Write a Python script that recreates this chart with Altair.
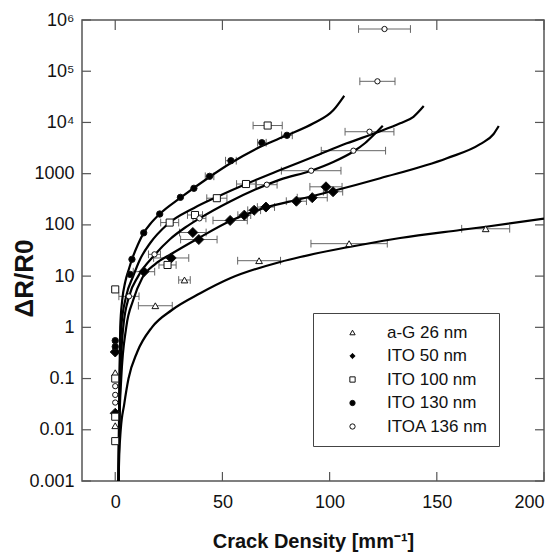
import altair as alt
import pandas as pd

series_names = ["a-G 26 nm", "ITO 50 nm", "ITO 100 nm", "ITO 130 nm", "ITOA 136 nm"]

# ---- measured points (x = crack density, y = dR/R0, err = half width of x error bar)
ag_x = [0, 0, 18.7, 32.3, 67.1, 109.1, 172.8]
ag_y = [0.13, 0.012, 2.64, 8.4, 20, 43, 84]
ag_err = [0, 0, 7.9, 2.7, 10, 17.8, 11.2]

ito50_x = [0, 0, 13.4, 26.1, 36.2, 39.0, 53.6, 60.2, 64.8, 70.3, 84.5, 91.9, 98.3, 101.6]
ito50_y = [0.33, 0.021, 12.2, 22.6, 71, 51.8, 122, 155, 193, 223, 290, 340, 554, 444]
ito50_err = [0, 0, 5, 8.2, 6.2, 8.5, 8, 3, 3, 4, 4.7, 7, 7.5, 4.5]

ito100_x = [0, 0, 0, 0, 24.4, 25.4, 37.2, 47.4, 61.0, 71.1]
ito100_y = [5.5, 0.1, 0.018, 0.006, 16.5, 111, 156, 332, 628, 8710]
ito100_err = [0, 0, 0, 0, 4, 4.2, 3.5, 4.7, 4.4, 6.8]

ito130_x = [0, 0, 7.0, 7.8, 13.3, 20.75, 30.4, 36.7, 44.0, 53.95, 68.4, 80.1]
ito130_y = [0.55, 0.42, 10.8, 21.3, 70, 163, 345, 518, 888, 1790, 4020, 5610]
ito130_err = [0, 0, 0, 0, 0, 0, 0, 0, 2, 2.5, 2, 2.5]

itoa_x = [0, 0, 0, 6.4, 18.3, 39.3, 70.7, 91.4, 111.1, 118.6, 122.3, 125.6]
itoa_y = [0.071, 0.048, 0.034, 4.03, 26.6, 134, 609, 1142, 2810, 6590, 63500, 667000]
itoa_err = [0, 0, 0, 4.7, 2.8, 3, 4.8, 13.9, 15, 11.4, 8.2, 12.1]

# ---- fitted curves
fitA_x = [1.54, 1.73, 1.96, 2.33, 3.26, 4.66, 6.53, 8.39, 10.49, 13.29, 16.32, 20.75, 30.31, 43.97, 53.95, 68.41, 80.07, 92.47, 101.8, 106.8]
fitA_y = [0.001, 0.01, 0.1, 1, 3.41, 7.67, 14.4, 24.7, 40.5, 70, 104, 163, 335, 861, 1615, 3467, 5610, 9620, 17500, 33200]

fitB_x = [1.54, 1.77, 2.10, 2.80, 5.13, 8.39, 11.66, 16.32, 24.0, 36.8, 47.4, 61.0, 76.9, 92.5, 108.0, 122.0, 132.9, 139.1, 143.9]
fitB_y = [0.001, 0.01, 0.1, 1, 4.09, 10, 21.6, 44.3, 99.5, 214, 350, 628, 1178, 2144, 3915, 6360, 9620, 12900, 20900]

fitC_x = [1.54, 1.87, 2.33, 3.73, 6.53, 10.73, 18.33, 25.65, 32.64, 39.31, 53.6, 65.3, 76.9, 91.4, 101.7, 111.1, 116.6, 120.8, 124.8]
fitC_y = [0.001, 0.01, 0.1, 1, 4.09, 10, 25.8, 53.0, 88.9, 134, 287, 489, 766, 1142, 1690, 2710, 3970, 5820, 8640]

fitD_x = [1.54, 1.87, 2.80, 5.13, 8.39, 12.59, 18.65, 26.1, 39.0, 53.6, 70.3, 84.5, 101.5, 123.6, 154.7, 170.2, 176.4, 178.9]
fitD_y = [0.001, 0.01, 0.1, 1.0, 3.41, 9.18, 17.2, 27.0, 55.5, 119, 218, 306, 459, 815, 2000, 3760, 5890, 8520]

fitE_x = [1.54, 1.87, 2.56, 4.20, 6.20, 10.26, 17.11, 26.44, 39.64, 53.6, 76.94, 86.27, 101.7, 114.2, 132.9, 160.9, 172.9, 200.0]
fitE_y = [0.001, 0.00321, 0.01, 0.0318, 0.1, 0.33, 1, 2.18, 4.62, 9.06, 18.9, 23.6, 32.3, 40.5, 55.4, 79.4, 92.1, 132]

y_tick_values = [0.001, 0.01, 0.1, 1, 10, 100, 1000, 10000, 100000, 1000000]
x_tick_values = [0, 50, 100, 150, 200]

# marker styling per series
marker_shapes = ["triangle-up", "diamond", "square", "circle", "circle"]
marker_fills = ["white", "black", "white", "black", "white"]
marker_strokes = ["#111", "#111", "#111", "#111", "#111"]
marker_sizes = {"a-G 26 nm": 45, "ITO 50 nm": 100, "ITO 100 nm": 50, "ITO 130 nm": 40, "ITOA 136 nm": 28}

# ---- tables
rows = []
for name, xs, ys, es in [
    (series_names[0], ag_x, ag_y, ag_err),
    (series_names[1], ito50_x, ito50_y, ito50_err),
    (series_names[2], ito100_x, ito100_y, ito100_err),
    (series_names[3], ito130_x, ito130_y, ito130_err),
    (series_names[4], itoa_x, itoa_y, itoa_err),
]:
    for xv, yv, ev in zip(xs, ys, es):
        rows.append({"series": name, "x": xv, "y": yv, "err": ev, "lo": xv - ev, "hi": xv + ev,
                     "msize": marker_sizes[name]})
pts = pd.DataFrame(rows)
errs = pts[pts["err"] > 0]

crows = []
for cid, xs, ys in [("A", fitA_x, fitA_y), ("B", fitB_x, fitB_y), ("C", fitC_x, fitC_y),
                    ("D", fitD_x, fitD_y), ("E", fitE_x, fitE_y)]:
    for i, (xv, yv) in enumerate(zip(xs, ys)):
        crows.append({"curve": cid, "i": i, "x": xv, "y": yv})
curves = pd.DataFrame(crows)

yt = pd.DataFrame({"y": y_tick_values})
xt = pd.DataFrame({"x": x_tick_values})

W, H = 462, 461
FRAME = "#555555"
xscale = alt.Scale(domain=[-15.5, 200], nice=False, zero=False)
yscale = alt.Scale(type="log", domain=[0.001, 1000000], nice=False)

label_expr = ("datum.value >= 999999 ? '10\u2076' : datum.value >= 99999 ? '10\u2075' : "
              "datum.value >= 9999 ? '10\u2074' : datum.value >= 1 ? format(datum.value, 'd') : "
              "format(datum.value, '.3~f')")

x_axis = alt.Axis(values=x_tick_values, ticks=False, tickSize=0, domain=False, grid=False,
                  labelFontSize=18, labelPadding=12, labelColor="#111",
                  title="Crack Density [mm\u207b\u00b9]", titleFontSize=20, titleFontWeight="bold",
                  titleColor="#111", titleX=231, titleY=66, titleAlign="center",
                  titleBaseline="alphabetic")
y_axis = alt.Axis(values=y_tick_values, labelExpr=label_expr, ticks=False, tickSize=0,
                  domain=False, grid=False, labelFontSize=18, labelPadding=8, labelColor="#111",
                  title="\u0394R/R0", titleFontSize=26, titleFontWeight="bold", titleColor="#111",
                  titleAngle=270, titleX=-58, titleY=258, titleAlign="center",
                  titleBaseline="middle")

leg = alt.Legend(orient="none", legendX=231, legendY=293, title=None, strokeColor="#444",
                 fillColor="white", padding=11, symbolOffset=20, labelOffset=26,
                 labelFontSize=17, labelColor="#111", rowPadding=5.5, symbolSize=28,
                 symbolStrokeWidth=1)


def X(field):
    return alt.X(field, scale=xscale, axis=x_axis)


def Y(field):
    return alt.Y(field, scale=yscale, axis=y_axis)


err_layer = alt.Chart(errs).mark_rule(color="#666", strokeWidth=1).encode(
    x=X("lo:Q"), x2="hi:Q", y=Y("y:Q"))

cap_layer = alt.Chart(errs).transform_fold(["lo", "hi"], as_=["side", "xv"]).mark_point(
    shape="M0,-1L0,1", size=60, color="#666", strokeWidth=1, filled=False, opacity=1).encode(
    x=X("xv:Q"), y=Y("y:Q"))

curve_layer = alt.Chart(curves).mark_line(color="black", strokeWidth=2.2, interpolate="monotone",
                                          clip=True).encode(
    x=X("x:Q"), y=Y("y:Q"), detail="curve:N", order="i:Q")

point_layer = alt.Chart(pts).mark_point(filled=True, strokeWidth=1, opacity=1).encode(
    x=X("x:Q"), y=Y("y:Q"),
    shape=alt.Shape("series:N", scale=alt.Scale(domain=series_names, range=marker_shapes), legend=leg),
    fill=alt.Fill("series:N", scale=alt.Scale(domain=series_names, range=marker_fills), legend=leg),
    stroke=alt.Stroke("series:N", scale=alt.Scale(domain=series_names, range=marker_strokes), legend=leg),
    size=alt.Size("msize:Q", scale=None))

tick_left = alt.Chart(yt).mark_rule(color=FRAME, strokeWidth=1.2).encode(
    y=Y("y:Q"), x=alt.value(0), x2=alt.value(9))
tick_right = alt.Chart(yt).mark_rule(color=FRAME, strokeWidth=1.2).encode(
    y=Y("y:Q"), x=alt.value(W - 9), x2=alt.value(W))
tick_top = alt.Chart(xt).mark_rule(color=FRAME, strokeWidth=1.2).encode(
    x=X("x:Q"), y=alt.value(0), y2=alt.value(10))
tick_bottom = alt.Chart(xt).mark_rule(color=FRAME, strokeWidth=1.2).encode(
    x=X("x:Q"), y=alt.value(H - 9), y2=alt.value(H))

chart = alt.layer(
    tick_left, tick_right, tick_top, tick_bottom,
    err_layer, cap_layer, curve_layer, point_layer
).properties(
    width=W, height=H,
    padding={"left": 82, "top": 20, "right": 15, "bottom": 71},
    autosize=alt.AutoSizeParams(type="none"),
).configure(font="Liberation Sans").configure_view(stroke=FRAME, strokeWidth=1.5)

chart.save("out.html", embed_options={"renderer": "svg", "actions": False})
